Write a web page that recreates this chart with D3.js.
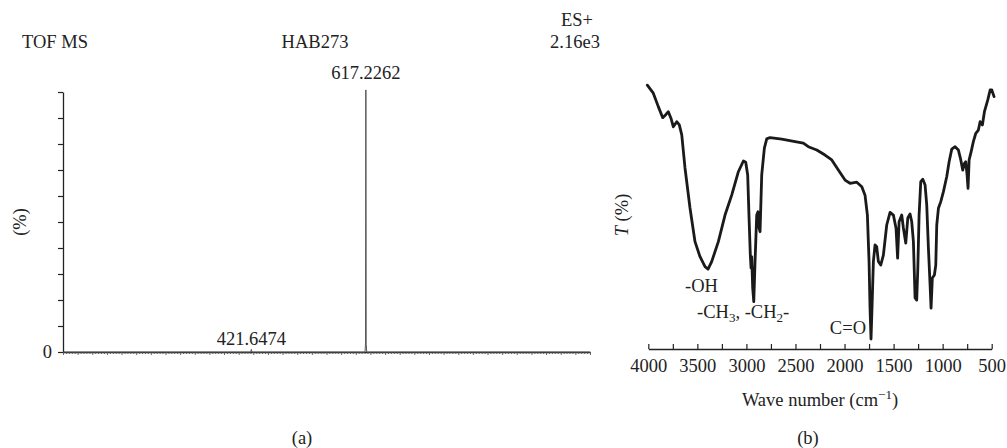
<!DOCTYPE html>
<html lang="en">
<head>
<meta charset="UTF-8" />
<style>
  body { margin: 0; background: #fff; }
  svg text { font-family: "Liberation Serif", "Times New Roman", serif; fill: #222; }
</style>
</head>
<body>
<svg id="fig" width="1007" height="448"></svg>
<script src="https://d3js.org/d3.v7.min.js"></script>
<script>
// ---- panel (a): TOF MS spectrum ----
var msMz  = [100, 420.6, 421.65, 422.7, 615.8, 616.7, 617.2262, 617.8, 618.7, 1000];
var msInt = [0,   0,     1.0,    0,     0,     3.5,   100.8,    3.0,   0,     0];
var msPeakLabels = [
  { mz: 617.2262, txt: "617.2262", lift: 11 },
  { mz: 421.6474, txt: "421.6474", lift: 7 }
];
var msYTicks = [0, 10, 20, 30, 40, 50, 60, 70, 80, 90, 100];

// ---- panel (b): IR spectrum (wave number, transmittance) ----
var irWave = [4010, 3949, 3898, 3853, 3820, 3796, 3769, 3745, 3710, 3684,
  3659, 3626, 3575, 3524, 3473, 3422, 3391, 3354, 3286, 3218,
  3150, 3082, 3031, 3007, 2987, 2973, 2960, 2953, 2946, 2936,
  2925, 2912, 2895, 2882, 2871, 2861, 2844, 2817, 2793, 2759,
  2640, 2504, 2420, 2369, 2283, 2199, 2130, 2063, 1995, 1944,
  1875, 1824, 1791, 1767, 1750, 1740, 1730, 1720, 1706, 1689,
  1672, 1655, 1631, 1604, 1570, 1536, 1502, 1475, 1459, 1444,
  1417, 1400, 1376, 1355, 1332, 1315, 1298, 1281, 1264, 1253,
  1240, 1223, 1202, 1179, 1162, 1145, 1128, 1118, 1105, 1084,
  1070, 1060, 1043, 1019, 992, 958, 934, 907, 873, 840,
  815, 795, 778, 764, 751, 741, 730, 710, 687, 662,
  636, 618, 595, 574, 540, 516, 499, 476];
var irT = [98.1, 95.1, 90.1, 86.0, 87.2, 88.2, 85.8, 82.6, 84.5, 83.3,
  79.6, 67.3, 52.4, 39.9, 34.3, 30.6, 29.7, 32.5, 39.9, 49.8,
  57.2, 65.9, 69.9, 69.4, 64.7, 48.7, 34.9, 30.1, 34.3, 22.7,
  17.6, 32.5, 49.8, 51.0, 45.0, 43.6, 64.7, 74.7, 78.1, 78.6,
  78.0, 77.1, 76.5, 75.2, 74.0, 72.1, 70.3, 66.5, 62.8, 61.6,
  62.0, 60.3, 57.2, 49.8, 32.5, 15.2, 3.7, 15.2, 32.5, 38.7,
  38.0, 32.5, 31.2, 34.9, 46.1, 50.8, 49.8, 44.9, 33.8, 47.3,
  49.8, 45.0, 39.4, 48.7, 50.2, 47.3, 39.9, 19.0, 18.2, 30.1,
  49.8, 62.2, 63.1, 61.0, 53.5, 37.5, 23.8, 15.2, 26.4, 27.5,
  31.2, 46.1, 52.3, 54.8, 58.5, 64.1, 69.6, 74.3, 75.2, 74.0,
  70.3, 66.5, 69.0, 69.6, 64.7, 59.7, 70.3, 73.3, 77.1, 80.2,
  81.4, 84.5, 83.3, 88.2, 92.6, 96.3, 96.3, 93.8];
var irTicks = [4000, 3500, 3000, 2500, 2000, 1500, 1000, 500];

var svg = d3.select("#fig");
var FS = 18.5;

// ================= (a) =================
var xa = d3.scaleLinear().domain([100, 1000]).range([63, 590]);
var ya = d3.scaleLinear().domain([0, 100]).range([352, 92]);

var axA = svg.append("g").attr("transform", "translate(63,0)")
  .call(d3.axisLeft(ya).tickValues(msYTicks).tickSize(5).tickSizeOuter(0)
    .tickFormat(function (d) { return d === 0 ? "0" : ""; }));
axA.select(".domain").attr("stroke", "#222").attr("stroke-width", 1.3);
axA.selectAll(".tick line").attr("stroke", "#222").attr("stroke-width", 1.2);
axA.selectAll(".tick text").attr("font-size", FS).attr("font-family", "Liberation Serif").attr("fill", "#222").attr("x", -11);

var minorA = d3.range(100, 1001, 5);
var bxA = svg.append("g").attr("transform", "translate(0,352)")
  .call(d3.axisBottom(xa).tickValues(minorA).tickFormat("")
    .tickSize(2).tickSizeOuter(0));
bxA.select(".domain").attr("stroke", "#222").attr("stroke-width", 1.3);
bxA.selectAll(".tick line").attr("stroke", "#444").attr("stroke-width", 0.8)
  .attr("y2", function (d) { return d % 25 === 0 ? 3 : 2; });

svg.append("path")
  .datum(d3.range(msMz.length))
  .attr("fill", "none").attr("stroke", "#555").attr("stroke-width", 1)
  .attr("d", d3.line().x(function (i) { return xa(msMz[i]); }).y(function (i) { return ya(msInt[i]); }));

msPeakLabels.forEach(function (p) {
  var i = msMz.indexOf(p.mz);
  var yy = i >= 0 ? ya(msInt[i]) : ya(0);
  svg.append("text").attr("x", xa(p.mz)).attr("y", yy - p.lift)
    .attr("text-anchor", "middle").attr("font-size", FS).text(p.txt);
});

svg.append("text").attr("x", 22).attr("y", 48).attr("font-size", FS).text("TOF MS");
svg.append("text").attr("x", 315).attr("y", 48).attr("text-anchor", "middle").attr("font-size", FS).text("HAB273");
svg.append("text").attr("x", 577).attr("y", 26).attr("text-anchor", "middle").attr("font-size", FS).text("ES+");
svg.append("text").attr("x", 575).attr("y", 48).attr("text-anchor", "middle").attr("font-size", FS).text("2.16e3");
svg.append("text").attr("transform", "translate(26,222) rotate(-90)")
  .attr("text-anchor", "middle").attr("font-size", FS).text("(%)");
svg.append("text").attr("x", 302).attr("y", 444).attr("text-anchor", "middle").attr("font-size", FS).text("(a)");

// ================= (b) =================
var xb = d3.scaleLinear().domain([4000, 500]).range([648.3, 991.7]);
var yb = d3.scaleLinear().domain([0, 100]).range([349, 80]);

var bxB = svg.append("g").attr("transform", "translate(0,349)")
  .call(d3.axisBottom(xb).tickValues(d3.range(4000, 499, -250))
    .tickSize(-5).tickSizeOuter(0)
    .tickFormat(function (d) { return irTicks.indexOf(d) >= 0 ? d : ""; }));
bxB.select(".domain").attr("stroke", "#222").attr("stroke-width", 1.3);
bxB.selectAll(".tick line").attr("stroke", "#222").attr("stroke-width", 1.2);
bxB.selectAll(".tick text").attr("font-size", FS).attr("font-family", "Liberation Serif").attr("fill", "#222").attr("y", 10);

svg.append("path")
  .datum(d3.range(irWave.length))
  .attr("fill", "none").attr("stroke", "#1a1a1a").attr("stroke-width", 2.8)
  .attr("stroke-linejoin", "round").attr("stroke-linecap", "round")
  .attr("d", d3.line().x(function (i) { return xb(irWave[i]); }).y(function (i) { return yb(irT[i]); }));

var tl = svg.append("text").attr("transform", "translate(628,215) rotate(-90)")
  .attr("text-anchor", "middle").attr("font-size", FS);
tl.append("tspan").attr("font-style", "italic").text("T");
tl.append("tspan").text(" (%)");

var wl = svg.append("text").attr("x", 820).attr("y", 406).attr("text-anchor", "middle").attr("font-size", FS);
wl.append("tspan").text("Wave number (cm");
wl.append("tspan").attr("font-size", 13).attr("dy", -7).text("\u22121");
wl.append("tspan").attr("dy", 7).text(")");

svg.append("text").attr("x", 808).attr("y", 444).attr("text-anchor", "middle").attr("font-size", FS).text("(b)");

svg.append("text").attr("x", 685).attr("y", 292).attr("font-size", FS).text("-OH");
var ch = svg.append("text").attr("x", 697).attr("y", 318).attr("font-size", FS);
ch.append("tspan").text("-CH");
ch.append("tspan").attr("font-size", 13).attr("dy", 4).text("3");
ch.append("tspan").attr("dy", -4).text(", -CH");
ch.append("tspan").attr("font-size", 13).attr("dy", 4).text("2");
ch.append("tspan").attr("dy", -4).text("-");
svg.append("text").attr("x", 866).attr("y", 334).attr("text-anchor", "end").attr("font-size", FS).text("C=O");
</script>
</body>
</html>
